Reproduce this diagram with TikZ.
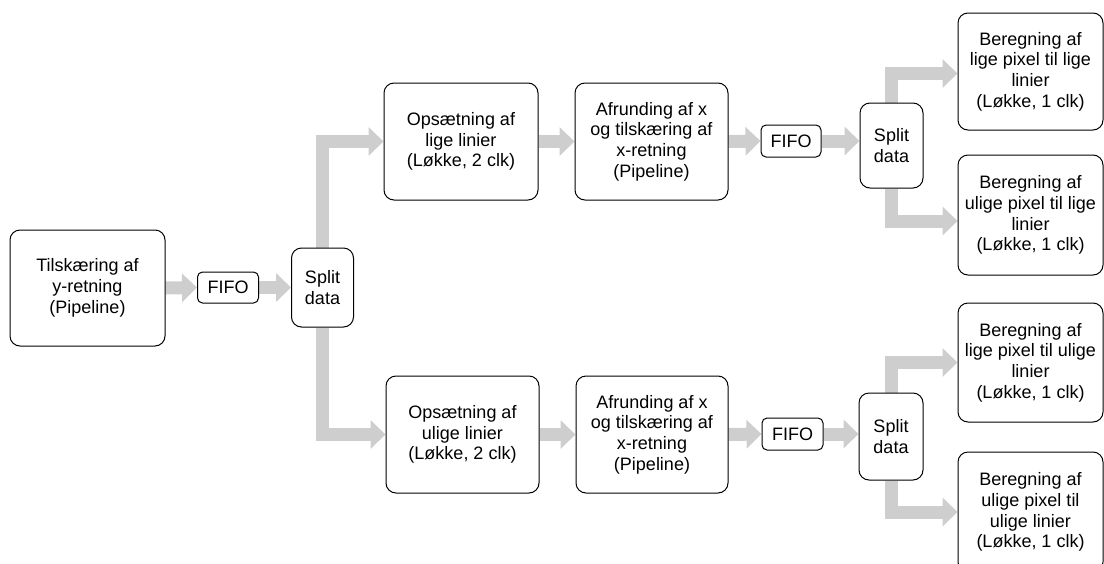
\documentclass[tikz,border=0pt]{standalone}
\usepackage{fontspec}
\setmainfont{Liberation Sans}
\usetikzlibrary{arrows.meta,calc,backgrounds}

\definecolor{flowgray}{HTML}{CECECE}

\tikzset{
  block/.style={draw=black, line width=1pt, rounded corners=10pt, fill=white,
    align=center, inner sep=0pt, minimum width=#1, minimum height=117pt,
    font=\fontsize{18}{20.7}\selectfont},
  block/.default=153pt,
  splitbox/.style={draw=black, line width=1pt, rounded corners=10pt, fill=white,
    align=center, inner sep=0pt, minimum width=62pt, minimum height=83pt,
    font=\fontsize{18}{20.7}\selectfont},
  fifobox/.style={draw=black, line width=1pt, rounded corners=5pt, fill=white,
    align=center, inner sep=0pt, minimum width=61pt, minimum height=31pt,
    font=\fontsize{18}{20.7}\selectfont},
  flow/.style={draw=flowgray, line width=13pt, line join=miter,
    -{Triangle[length=15pt,width=28pt]}}
}

\begin{document}
\begin{tikzpicture}[x=1pt, y=-1pt]
  \useasboundingbox (0,0) rectangle (1104,563);

  % input stage
  \node[block=155pt, minimum height=116pt] (tilsk) at (87.5,288)
    {Tilskæring af\\y-retning\\(Pipeline)};
  \node[fifobox] (fifoA) at (228,287.5) {FIFO};
  \node[splitbox, minimum height=79pt] (splitA) at (322.5,287.5) {Split\\data};

  % even lines
  \node[block=154pt] (opsE) at (461,141.5) {Opsætning af\\lige linier\\(Løkke, 2 clk)};
  \node[block] (afrE) at (651.5,141.5) {Afrunding af x\\og tilskæring af\\x-retning\\(Pipeline)};
  \node[fifobox, minimum width=60pt, minimum height=32pt] (fifoE) at (791,141) {FIFO};
  \node[splitbox, minimum width=63pt, minimum height=85pt] (splitE) at (891.5,145.5) {Split\\data};
  \node[block=145pt] (berEE) at (1030.5,71.5)
    {Beregning af\\lige pixel til lige\\linier\\(Løkke, 1 clk)};
  \node[block=145pt, minimum height=120pt] (berOE) at (1030.5,215)
    {Beregning af\\ulige pixel til lige\\linier\\(Løkke, 1 clk)};

  % odd lines
  \node[block] (opsO) at (462.5,434.5) {Opsætning af\\ulige linier\\(Løkke, 2 clk)};
  \node[block=152pt] (afrO) at (652,434.5) {Afrunding af x\\og tilskæring af\\x-retning\\(Pipeline)};
  \node[fifobox, minimum height=32pt] (fifoO) at (792.5,434) {FIFO};
  \node[splitbox, minimum width=64pt, minimum height=87pt] (splitO) at (891,436.5) {Split\\data};
  \node[block=145pt, minimum height=119pt] (berEO) at (1030.5,362.5)
    {Beregning af\\lige pixel til ulige\\linier\\(Løkke, 1 clk)};
  \node[block=145pt, minimum height=120pt] (berOO) at (1030.5,512)
    {Beregning af\\ulige pixel til\\ulige linier\\(Løkke, 1 clk)};

  \begin{scope}[on background layer]
    \draw[flow] (tilsk.east) -- (fifoA.west);
    \draw[flow] (fifoA.east) -- (splitA.west);
    \draw[flow] (splitA.north) |- (opsE.west);
    \draw[flow] (splitA.south) |- (opsO.west);

    \draw[flow] (opsE.east) -- (afrE.west);
    \draw[flow] (afrE.east) -- (fifoE.west);
    \draw[flow] (fifoE.east) -- (fifoE.east -| splitE.west);
    \draw[flow] (splitE.north) |- ($(berEE.west)+(0,2)$);
    \draw[flow] (splitE.south) |- ($(berOE.west)+(0,6)$);

    \draw[flow] (opsO.east) -- (afrO.west);
    \draw[flow] (afrO.east) -- (fifoO.west);
    \draw[flow] (fifoO.east) -- (fifoO.east -| splitO.west);
    \draw[flow] (splitO.north) |- (berEO.west);
    \draw[flow] (splitO.south) |- (berOO.west);
  \end{scope}
\end{tikzpicture}
\end{document}
